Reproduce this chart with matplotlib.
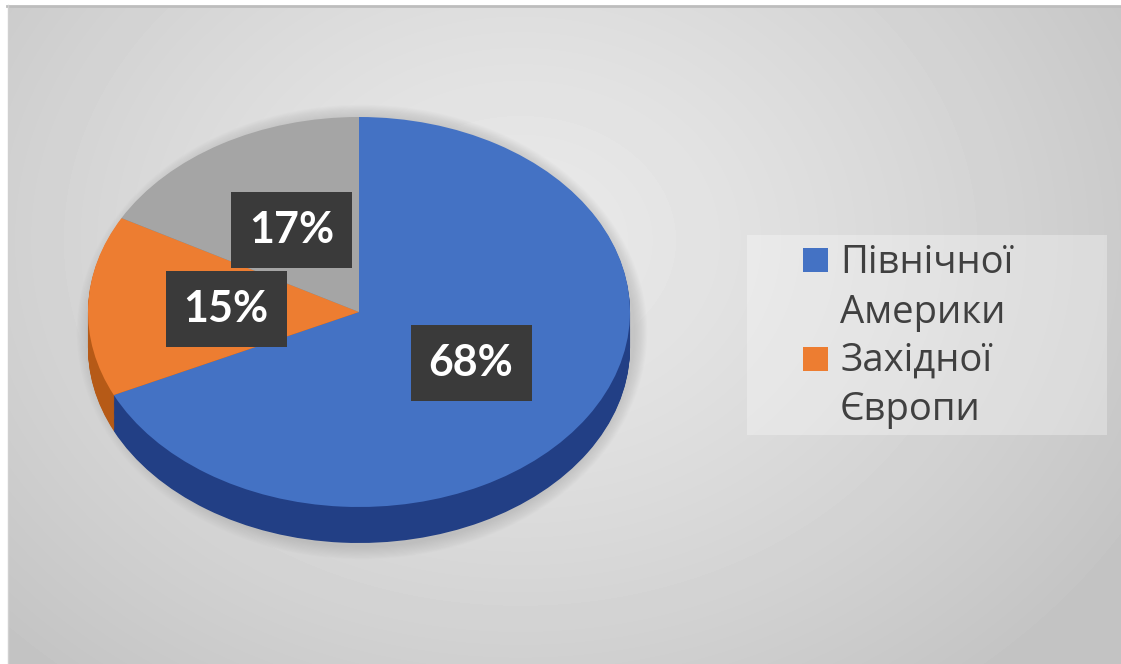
import numpy as np
import matplotlib.pyplot as plt
from matplotlib.patches import Rectangle, Ellipse

W, H = 1121, 664

# data
regions = ["Північної Америки", "Західної Європи", "Інші"]
shares = [68, 15, 17]
legend_lines = [["Північної", "Америки"], ["Західної", "Європи"]]

top_colors = ["#4472C4", "#ED7D31", "#A5A5A5"]
side_colors = ["#223F85", "#B65A17", "#7A7A7A"]

fig = plt.figure(figsize=(W / 100, H / 100), dpi=100)

# background: soft radial gray gradient, pixel coords (y down)
ax_bg = fig.add_axes([0, 0, 1, 1])
ax_bg.set_xlim(0, W)
ax_bg.set_ylim(H, 0)
ax_bg.axis("off")
yy, xx = np.mgrid[0:H, 0:W]
dist = np.sqrt(((xx - 520) / 1.0) ** 2 + ((yy - 240) / 0.8) ** 2)
t = np.clip(dist / 720, 0, 1)
grad = 0.915 - 0.15 * t ** 1.3
ax_bg.imshow(grad, cmap="gray", vmin=0, vmax=1, extent=(0, W, H, 0), zorder=0)
ax_bg.add_patch(Rectangle((0, 0), 7, H, color="white", zorder=1))
ax_bg.add_patch(Rectangle((0, 0), W, 5, color="white", zorder=1))
ax_bg.plot([7, W], [6, 6], color="#BDBDBD", lw=2, zorder=2)
ax_bg.plot([7.5, 7.5], [5, H], color="#D0D0D0", lw=1, zorder=2)

# soft shadow under the pie
for k in range(12):
    ax_bg.add_patch(Ellipse((362, 332), 2 * 271 + 4 + 2.2 * k, 2 * 213 + 4 + 2.2 * k,
                            color="#9A9A9A", alpha=0.035, lw=0, zorder=1))

# legend box (manual, first line of each entry carries the square)
ax_bg.add_patch(Rectangle((747, 235), 360, 200, facecolor="white", alpha=0.3, lw=0, zorder=3))
base_y = [273, 323, 371, 420]
sq_top = [248, 347]
row = 0
for i, lines in enumerate(legend_lines):
    ax_bg.add_patch(Rectangle((803, sq_top[i]), 25, 24, facecolor=top_colors[i], lw=0, zorder=4))
    for ln in lines:
        ax_bg.text(840, base_y[row], ln, fontsize=27.5, family="Open Sans",
                   color="#404040", va="baseline", ha="left", zorder=5)
        row += 1

# pie, drawn in squashed coords so the unit circle is the tilted top face
cx, cy, a, b = 359, 312, 271, 195
depth = 36 / b
ax = fig.add_axes([0, 0, 1, 1])
ax.patch.set_alpha(0)

for off in np.linspace(depth, 0.005, 40):
    ax.pie(shares, colors=side_colors, startangle=90, counterclock=False,
           center=(0, -off), radius=1, wedgeprops=dict(linewidth=0))

wedges, texts, autotexts = ax.pie(
    shares, colors=top_colors, startangle=90, counterclock=False,
    center=(0, 0), radius=1, autopct="%1.0f%%", pctdistance=0.49,
    wedgeprops=dict(linewidth=0))
for t in texts:
    t.set_visible(False)
for t in autotexts:
    t.set_color("white")
    t.set_fontsize(31)
    t.set_fontweight("bold")
    t.set_family("Lato")
    t.set_bbox(dict(boxstyle="square,pad=0.42", facecolor="#3A3A3A", edgecolor="none"))

ax.set_aspect("auto")
ax.set_xlim(-cx / a, (W - cx) / a)
ax.set_ylim(-(H - cy) / b, cy / b)
ax.axis("off")

fig.savefig("out.png", dpi=100)
